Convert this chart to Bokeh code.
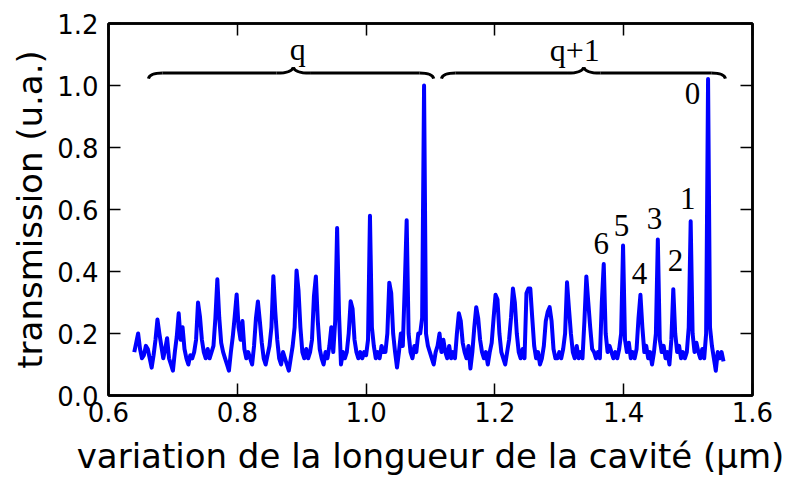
import numpy as np
from bokeh.plotting import figure
from bokeh.models import LinearAxis, FixedTicker, Range1d
from bokeh.core.properties import value
from bokeh.embed import file_html
from bokeh.resources import INLINE

# ---- data ----
x_start = 0.640   # first sample position (um)
x_step = 0.003    # sampling step (um)
transmission = [
    0.14, 0.17, 0.20, 0.15, 0.12, 0.13, 0.16, 0.15, 0.12, 0.09,
    0.13, 0.18, 0.245, 0.20, 0.16, 0.12, 0.15, 0.185, 0.12, 0.10,
    0.08, 0.14, 0.19, 0.265, 0.18, 0.22, 0.15, 0.12, 0.10, 0.13,
    0.12, 0.14, 0.18, 0.30, 0.255, 0.18, 0.14, 0.12, 0.15, 0.12,
    0.14, 0.16, 0.25, 0.375, 0.25, 0.17, 0.14, 0.12, 0.10, 0.08,
    0.14, 0.19, 0.255, 0.326, 0.22, 0.18, 0.24, 0.15, 0.12, 0.14,
    0.12, 0.10, 0.16, 0.25, 0.303, 0.24, 0.17, 0.12, 0.10, 0.13,
    0.16, 0.22, 0.385, 0.27, 0.18, 0.12, 0.10, 0.14, 0.12, 0.10,
    0.08, 0.12, 0.16, 0.22, 0.403, 0.34, 0.22, 0.14, 0.12, 0.15,
    0.12, 0.14, 0.18, 0.32, 0.384, 0.24, 0.15, 0.12, 0.10, 0.14,
    0.12, 0.16, 0.22, 0.14, 0.24, 0.54, 0.26, 0.10, 0.14, 0.12,
    0.14, 0.20, 0.304, 0.28, 0.18, 0.14, 0.12, 0.14, 0.12, 0.14,
    0.13, 0.18, 0.58, 0.22, 0.16, 0.12, 0.14, 0.12, 0.16, 0.14,
    0.14, 0.20, 0.364, 0.33, 0.20, 0.14, 0.09, 0.14, 0.20, 0.16,
    0.35, 0.565, 0.20, 0.14, 0.12, 0.16, 0.14, 0.20, 0.20, 0.25,
    1.00, 0.20, 0.16, 0.14, 0.12, 0.10, 0.14, 0.16, 0.20, 0.14,
    0.18, 0.14, 0.12, 0.16, 0.12, 0.14, 0.12, 0.20, 0.265, 0.24,
    0.17, 0.14, 0.12, 0.16, 0.087, 0.14, 0.22, 0.285, 0.25, 0.18,
    0.14, 0.12, 0.14, 0.10, 0.14, 0.17, 0.25, 0.325, 0.31, 0.20,
    0.14, 0.12, 0.10, 0.14, 0.18, 0.25, 0.345, 0.30, 0.20, 0.14,
    0.12, 0.15, 0.12, 0.33, 0.345, 0.345, 0.25, 0.16, 0.12, 0.14,
    0.10, 0.12, 0.16, 0.24, 0.27, 0.285, 0.24, 0.15, 0.12, 0.12,
    0.14, 0.12, 0.15, 0.20, 0.365, 0.28, 0.20, 0.14, 0.12, 0.16,
    0.12, 0.14, 0.12, 0.24, 0.384, 0.30, 0.22, 0.15, 0.14, 0.12,
    0.14, 0.12, 0.30, 0.424, 0.20, 0.14, 0.16, 0.14, 0.12, 0.14,
    0.12, 0.15, 0.20, 0.484, 0.18, 0.14, 0.17, 0.12, 0.14, 0.12,
    0.15, 0.25, 0.325, 0.22, 0.14, 0.16, 0.12, 0.14, 0.10, 0.14,
    0.20, 0.503, 0.18, 0.14, 0.16, 0.12, 0.14, 0.10, 0.18, 0.343,
    0.20, 0.14, 0.16, 0.12, 0.14, 0.12, 0.14, 0.22, 0.562, 0.20,
    0.14, 0.17, 0.14, 0.12, 0.15, 0.12, 0.20, 1.021, 0.22, 0.16,
    0.12, 0.08, 0.14, 0.12, 0.14, 0.11,
]

# mode order labels (text, x, baseline y)
mode_labels = ["0", "1", "2", "3", "4", "5", "6"]
mode_label_x = [1.507, 1.4996, 1.4804, 1.448, 1.4245, 1.3966, 1.365]
mode_label_y = [0.974, 0.635, 0.434, 0.571, 0.393, 0.548, 0.490]

# braces grouping the orders
brace_labels = ["q", "q+1"]
brace_start = [0.662, 1.117]
brace_end = [1.105, 1.558]
brace_tip = [0.887, 1.338]
brace_label_x = [0.894, 1.324]
brace_label_y = [1.117, 1.113]
brace_level = 1.040
brace_end_level = 1.022
brace_tip_level = 1.059

x_ticks = [0.6, 0.8, 1.0, 1.2, 1.4, 1.6]
x_tick_labels = ["0.6", "0.8", "1.0", "1.2", "1.4", "1.6"]
y_ticks = [0.0, 0.2, 0.4, 0.6, 0.8, 1.0, 1.2]
y_tick_labels = ["0.0", "0.2", "0.4", "0.6", "0.8", "1.0", "1.2"]

x_label = "variation de la longueur de la cavité (μm)"
y_label = "transmission (u.a.)"

# ---- figure ----
xs = [round(x_start + x_step * i, 4) for i in range(len(transmission))]

p = figure(width=790, height=479, x_range=Range1d(0.6, 1.6), y_range=Range1d(0.0, 1.2),
           output_backend="svg", toolbar_location=None,
           min_border_left=108, min_border_right=38, min_border_top=23, min_border_bottom=84)
p.background_fill_color = "white"
p.border_fill_color = "white"
p.outline_line_color = "black"
p.outline_line_width = 2.5
p.xgrid.grid_line_color = None
p.ygrid.grid_line_color = None

p.line(xs, transmission, line_color="#0000ff", line_width=4, line_join="round")

TICK_FONT = "26px"
for ax, ticks, labels in [(p.xaxis[0], x_ticks, x_tick_labels), (p.yaxis[0], y_ticks, y_tick_labels)]:
    ax.ticker = FixedTicker(ticks=ticks)
    ax.major_label_overrides = {t: l for t, l in zip(ticks, labels)}
    ax.major_tick_in = 12
    ax.major_tick_out = 0
    ax.major_tick_line_width = 1.5
    ax.major_tick_line_color = "black"
    ax.minor_tick_line_color = None
    ax.axis_line_width = 2.5
    ax.axis_line_color = "black"
    ax.major_label_text_font = "DejaVu Sans"
    ax.major_label_text_font_size = TICK_FONT
    ax.major_label_text_color = "black"
    ax.axis_label_text_font = "DejaVu Sans"
    ax.axis_label_text_font_size = "34px"
    ax.axis_label_text_font_style = "normal"
    ax.axis_label_text_color = "black"

p.xaxis.axis_label = x_label
p.yaxis.axis_label = y_label
p.xaxis.major_label_standoff = 6
p.yaxis.major_label_standoff = 10
p.xaxis.axis_label_standoff = 11
p.yaxis.axis_label_standoff = 4

for loc, ticks in [("above", x_ticks), ("right", y_ticks)]:
    extra = LinearAxis()
    extra.ticker = FixedTicker(ticks=ticks)
    extra.major_label_text_color = None
    extra.major_label_standoff = 0
    extra.major_tick_in = 12
    extra.major_tick_out = 0
    extra.major_tick_line_width = 1.5
    extra.minor_tick_line_color = None
    extra.axis_line_width = 2.5
    p.add_layout(extra, loc)

# mode labels
p.text(x=mode_label_x, y=mode_label_y, text=mode_labels, text_align="center",
       text_baseline="alphabetic", text_font=value("Liberation Serif"),
       text_font_size="31px", text_color="black")

# braces
q0x, q0y, q1x, q1y, qcx, qcy = [], [], [], [], [], []
sx0, sy0, sx1, sy1 = [], [], [], []
for s, e, m in zip(brace_start, brace_end, brace_tip):
    d_end = 0.022
    d_mid = 0.026
    q0x.append(s); q0y.append(brace_end_level); q1x.append(s + d_end); q1y.append(brace_level)
    qcx.append(s + 0.002); qcy.append(brace_level)
    q0x.append(m - d_mid); q0y.append(brace_level); q1x.append(m); q1y.append(brace_tip_level)
    qcx.append(m - 0.002); qcy.append(brace_level)
    q0x.append(m); q0y.append(brace_tip_level); q1x.append(m + d_mid); q1y.append(brace_level)
    qcx.append(m + 0.002); qcy.append(brace_level)
    q0x.append(e - d_end); q0y.append(brace_level); q1x.append(e); q1y.append(brace_end_level)
    qcx.append(e - 0.002); qcy.append(brace_level)
    sx0 += [s + d_end, m + d_mid]; sy0 += [brace_level, brace_level]
    sx1 += [m - d_mid, e - d_end]; sy1 += [brace_level, brace_level]

p.quadratic(x0=q0x, y0=q0y, x1=q1x, y1=q1y, cx=qcx, cy=qcy, line_color="black", line_width=3)
p.segment(x0=sx0, y0=sy0, x1=sx1, y1=sy1, line_color="black", line_width=3)

p.text(x=brace_label_x, y=brace_label_y, text=brace_labels,
       text_align="center", text_baseline="alphabetic", text_font=value("Liberation Serif"),
       text_font_size="32px", text_color="black")

open("out.html", "w").write(file_html(p, INLINE))
